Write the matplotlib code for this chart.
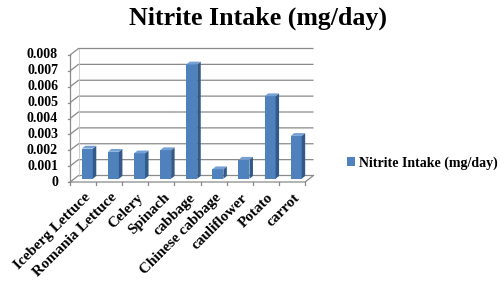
import matplotlib
matplotlib.use("Agg")
import matplotlib.pyplot as plt
from matplotlib.patches import Polygon, Patch
import numpy as np

categories = ["Iceberg Lettuce", "Romania Lettuce", "Celery", "Spinach", "cabbage",
              "Chinese cabbage", "cauliflower", "Potato", "carrot"]
values = [0.0019, 0.0017, 0.0016, 0.0018, 0.0072, 0.0006, 0.0012, 0.0052, 0.0027]
yticks = [0, 0.001, 0.002, 0.003, 0.004, 0.005, 0.006, 0.007, 0.008]
ytick_labels = ["0", "0.001", "0.002", "0.003", "0.004", "0.005", "0.006", "0.007", "0.008"]
series_name = "Nitrite Intake (mg/day)"

W, H = 500, 287
fig = plt.figure(figsize=(W / 100, H / 100), dpi=100)
serif = ["Liberation Serif", "DejaVu Serif"]

# front plane in pixels
x0p, x1p = 70, 305
y0p, y1p = 182, 55
ax = fig.add_axes([x0p / W, 1 - y0p / H, (x1p - x0p) / W, (y0p - y1p) / H])
n = len(categories)
xmin, xmax = -0.5, n - 0.5
ymin, ymax = 0, 0.008
ax.set_xlim(xmin, xmax)
ax.set_ylim(ymin, ymax)
ax.axis("off")

px_x = (xmax - xmin) / (x1p - x0p)
px_y = (ymax - ymin) / (y0p - y1p)
DX, DY = 8.5 * px_x, 6.5 * px_y  # depth offset to back wall

grid_c = "#8a8a8a"
lw = 0.9
for v in yticks:
    ax.plot([xmin, xmin + DX, xmax + DX], [v, v + DY, v + DY], color=grid_c, lw=lw,
            clip_on=False, solid_capstyle="butt")
    ax.plot([xmin - 2.5 * px_x, xmin], [v, v], color=grid_c, lw=lw, clip_on=False)
# left wall vertical edges
ax.plot([xmin, xmin], [ymin, ymax], color=grid_c, lw=lw, clip_on=False)
ax.plot([xmin + DX, xmin + DX], [ymin + DY, ymax + DY], color="#c8c8c8", lw=0.6, clip_on=False)
# floor
ax.plot([xmin, xmax, xmax + DX], [0, 0, DY], color=grid_c, lw=lw, clip_on=False)
for b in np.arange(n + 1) - 0.5:
    ax.plot([b, b], [0, -3 * px_y], color=grid_c, lw=lw, clip_on=False)

# bars
front = "#4f81bd"
side = "#31598a"
top = "#74a0d4"
x = np.arange(n)
offx, offy = 0.5 * DX, 0.5 * DY
bw = 0.42
bdx, bdy = 3.5 * px_x, 2.8 * px_y
bars = ax.bar(x + offx, values, bottom=offy, width=bw, color=front, edgecolor="none",
              zorder=3, clip_on=False)
for xi, v in zip(x, values):
    l = xi + offx - bw / 2
    r = xi + offx + bw / 2
    t = v + offy
    b = offy
    ax.add_patch(Polygon([[r, b], [r + bdx, b + bdy], [r + bdx, t + bdy], [r, t]],
                         closed=True, facecolor=side, edgecolor="none", zorder=3, clip_on=False))
    ax.add_patch(Polygon([[l, t], [r, t], [r + bdx, t + bdy], [l + bdx, t + bdy]],
                         closed=True, facecolor=top, edgecolor="none", zorder=3, clip_on=False))

# y tick labels
for v, lab in zip(yticks, ytick_labels):
    ax.text(xmin - 12 * px_x, v, lab, ha="right", va="center", fontsize=10,
            family=serif, fontweight="bold", clip_on=False)
# x tick labels
for xi, lab in zip(x, categories):
    ax.text(xi + 0.05, -9 * px_y, lab, ha="right", va="top", rotation=45,
            rotation_mode="anchor", fontsize=11, family=serif, fontweight="bold")

fig.text(258 / W, 1 - 18 / H, "Nitrite Intake (mg/day)", ha="center", va="center",
         fontsize=18.6, family=serif, fontweight="bold")

handle = Patch(facecolor=front, edgecolor="none")
leg = fig.legend([handle], [series_name], loc="center left",
                 bbox_to_anchor=(334 / W, 1 - 163 / H), frameon=False,
                 prop={"family": serif, "weight": "bold", "size": 10},
                 handlelength=0.6, handleheight=0.6, handletextpad=0.3)

fig.savefig("out.png", dpi=100)
